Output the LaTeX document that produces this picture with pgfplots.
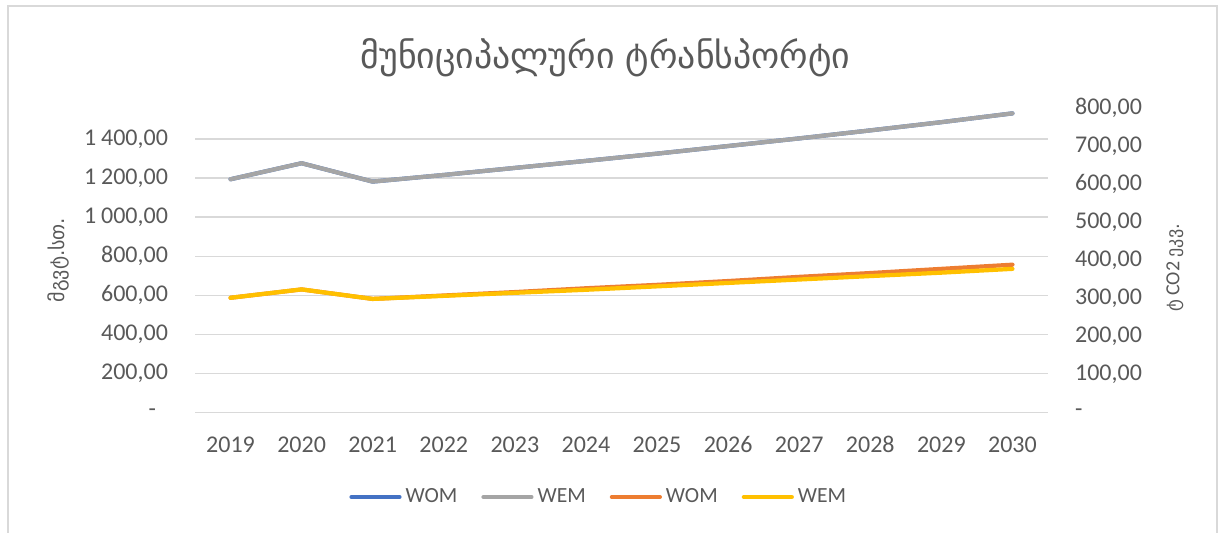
\documentclass[border=0pt]{standalone}
\usepackage{fontspec}
\setmainfont{Carlito}
\newfontfamily\geo{DejaVu Sans}
\usepackage{pgfplots}
\pgfplotsset{compat=1.18}
\definecolor{cblue}{HTML}{4472C4}
\definecolor{cgray}{HTML}{A5A5A5}
\definecolor{corange}{HTML}{ED7D31}
\definecolor{cyellow}{HTML}{FFC000}
\definecolor{tgray}{HTML}{595959}
\definecolor{ggray}{HTML}{D9D9D9}
\pgfplotsset{
  base/.style={
    scale only axis, width=426.5pt, height=152.2pt,
    at={(97.5pt,60.15pt)}, anchor=south west,
    xmin=2018.5, xmax=2030.5,
    axis line style={draw=none}, major tick length=0pt,
    tick label style={text=tgray, font=\fontsize{12}{14}\selectfont},
    /pgf/number format/assume math mode=true,
    every axis plot/.append style={line width=2.1pt, line join=round, line cap=round},
  }
}
\begin{document}
\begin{tikzpicture}[x=1pt,y=1pt]
\path[use as bounding box] (0,0) rectangle (609,266.5);
\draw[ggray, line width=1pt] (3.75,-5) -- (3.75,263.5) -- (608.5,263.5) -- (608.5,-5);
\begin{axis}[base,
  xtick={2019,2020,2021,2022,2023,2024,2025,2026,2027,2028,2029,2030},
  xticklabels={2019,2020,2021,2022,2023,2024,2025,2026,2027,2028,2029,2030},
  xticklabel style={yshift=-8pt, text height=8.5pt, text depth=0pt},
  ymin=0, ymax=1557,
  ytick={0,200,400,600,800,1000,1200,1400},
  yticklabels={{-\hspace*{6pt}},{200,00},{400,00},{600,00},{800,00},{1\kern2.4pt 000,00},{1\kern2.4pt 200,00},{1\kern2.4pt 400,00}},
  yticklabel style={anchor=east, xshift=-10pt},
  ymajorgrids, grid style={ggray, line width=0.75pt},
]
\addplot[cblue] coordinates {(2019,1194) (2020,1276) (2021,1182) (2022,1216) (2023,1252) (2024,1288) (2025,1325) (2026,1364) (2027,1403) (2028,1444) (2029,1486) (2030,1531)};
\addplot[cgray] coordinates {(2019,1194) (2020,1276) (2021,1182) (2022,1216) (2023,1252) (2024,1288) (2025,1325) (2026,1364) (2027,1403) (2028,1444) (2029,1486) (2030,1531)};
\end{axis}
\begin{axis}[base,
  axis x line=none, axis y line*=right,
  ymin=0, ymax=800,
  ytick={0,100,200,300,400,500,600,700,800},
  yticklabels={{-},{100,00},{200,00},{300,00},{400,00},{500,00},{600,00},{700,00},{800,00}},
  yticklabel style={anchor=west, xshift=10pt},
  legend style={at={(0.1735,-0.277)}, anchor=west, draw=none, fill=none,
    legend columns=4, font=\fontsize{10.8}{13}\selectfont, text=tgray,
    nodes={inner sep=2pt},
    /tikz/every even column/.append style={column sep=10pt}},
  legend image code/.code={\draw[#1] (1pt,0pt) -- (25pt,0pt);},
]
\addlegendimage{cblue, line width=2.1pt, line cap=round}
\addlegendentry{WOM}
\addlegendimage{cgray, line width=2.1pt, line cap=round}
\addlegendentry{WEM}
\addplot[corange] coordinates {(2019,302) (2020,324) (2021,299) (2022,308) (2023,317) (2024,327) (2025,336) (2026,346) (2027,357) (2028,367) (2029,378) (2030,389)};
\addlegendentry{WOM}
\addplot[cyellow] coordinates {(2019,302) (2020,324) (2021,299) (2022,307) (2023,315) (2024,323) (2025,332) (2026,341) (2027,350) (2028,359) (2029,368) (2030,378)};
\addlegendentry{WEM}
\end{axis}
\node[text=tgray, font=\geo\fontsize{17.9}{20}\selectfont] at (302.75,237.5) {მუნიციპალური ტრანსპორტი};
\node[text=tgray, font=\geo\fontsize{10}{12}\selectfont, rotate=90] at (29,136.5) {მგვტ.სთ.};
\node[text=tgray, font=\fontsize{10}{12}\selectfont, rotate=90] at (587.5,132.5) {{\geo\fontsize{9}{12}\selectfont ტ} CO2 {\geo\fontsize{9}{12}\selectfont ეკვ.}};
\end{tikzpicture}
\end{document}
